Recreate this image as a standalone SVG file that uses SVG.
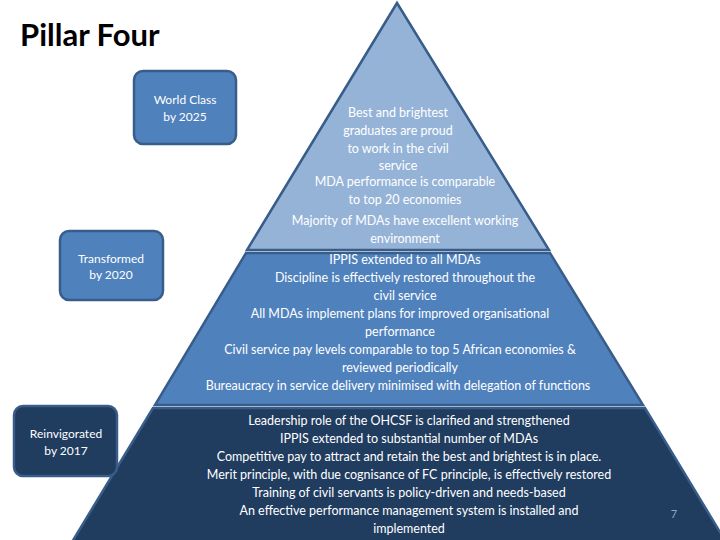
<svg xmlns="http://www.w3.org/2000/svg" width="720" height="540" viewBox="0 0 720 540">
<style>
.t{font-family:Lato,"Open Sans",sans-serif;font-size:12.5px;fill:#fff;text-anchor:middle}
.b{font-family:Lato,"Open Sans",sans-serif;font-size:12px;fill:#fff;text-anchor:middle}
.box{stroke:#385d8a;stroke-width:2.5}
.tier{stroke:#385d8a;stroke-width:2.5}
</style>
<rect width="720" height="540" fill="#fff"/>
<text x="20" y="46" style="font-family:Lato,'Open Sans',sans-serif;font-size:31px;font-weight:bold;fill:#000">Pillar Four</text>
<g id="pyramid-top">
<polygon class="tier" points="397,3 549,250 247,250" fill="#95b3d7"/>
<text class="t"><tspan x="398" y="117">Best and brightest</tspan><tspan x="398" y="135">graduates are proud</tspan><tspan x="398" y="153">to work in the civil</tspan><tspan x="398" y="170">service</tspan><tspan x="405" y="186">MDA performance is comparable</tspan><tspan x="405" y="204">to top 20 economies</tspan><tspan x="405" y="225">Majority of MDAs have excellent working</tspan><tspan x="405" y="243">environment</tspan></text>
</g>
<g id="pyramid-middle">
<polygon class="tier" points="246,253 550,253 643,405 155,405" fill="#4f81bd"/>
<text class="t"><tspan x="405" y="264">IPPIS extended to all MDAs</tspan><tspan x="405" y="282">Discipline is effectively restored throughout the</tspan><tspan x="405" y="300">civil service</tspan><tspan x="400" y="318">All MDAs implement plans for improved organisational</tspan><tspan x="400" y="336">performance</tspan><tspan x="400" y="354">Civil service pay levels comparable to  top 5 African economies &amp;</tspan><tspan x="400" y="372">reviewed periodically</tspan><tspan x="398" y="390">Bureaucracy  in service delivery minimised  with delegation of functions</tspan></text>
</g>
<g id="pyramid-bottom">
<polygon class="tier" points="153,408 645,408 726,542 72,542" fill="#203c5f"/>
<text class="t"><tspan x="409" y="425">Leadership role of the OHCSF is clarified and strengthened</tspan><tspan x="409" y="443">IPPIS extended to substantial number of MDAs</tspan><tspan x="409" y="461">Competitive pay to attract and retain the best and brightest is in place.</tspan><tspan x="409" y="479">Merit principle, with due cognisance of FC principle, is effectively restored</tspan><tspan x="409" y="497">Training of civil servants is policy-driven and needs-based</tspan><tspan x="409" y="515">An effective performance management system is installed and</tspan><tspan x="409" y="533">implemented</tspan></text>
</g>
<g id="box-2025"><rect class="box" x="134" y="71" width="102" height="73" rx="9" fill="#4f81bd"/><text class="b"><tspan x="185" y="104">World Class</tspan><tspan x="185" y="121">by 2025</tspan></text></g>
<g id="box-2020"><rect class="box" x="60" y="231" width="103" height="69" rx="9" fill="#4f81bd"/><text class="b"><tspan x="111" y="263">Transformed</tspan><tspan x="111" y="279">by 2020</tspan></text></g>
<g id="box-2017"><rect class="box" x="14" y="406" width="103" height="70" rx="9" fill="#203c5f"/><text class="b"><tspan x="66" y="438">Reinvigorated</tspan><tspan x="66" y="455">by 2017</tspan></text></g>
<g id="connectors"/>
<text x="674" y="518" style="font-family:Lato,sans-serif;font-size:11px;fill:#8ea9c8;text-anchor:middle">7</text>
</svg>
